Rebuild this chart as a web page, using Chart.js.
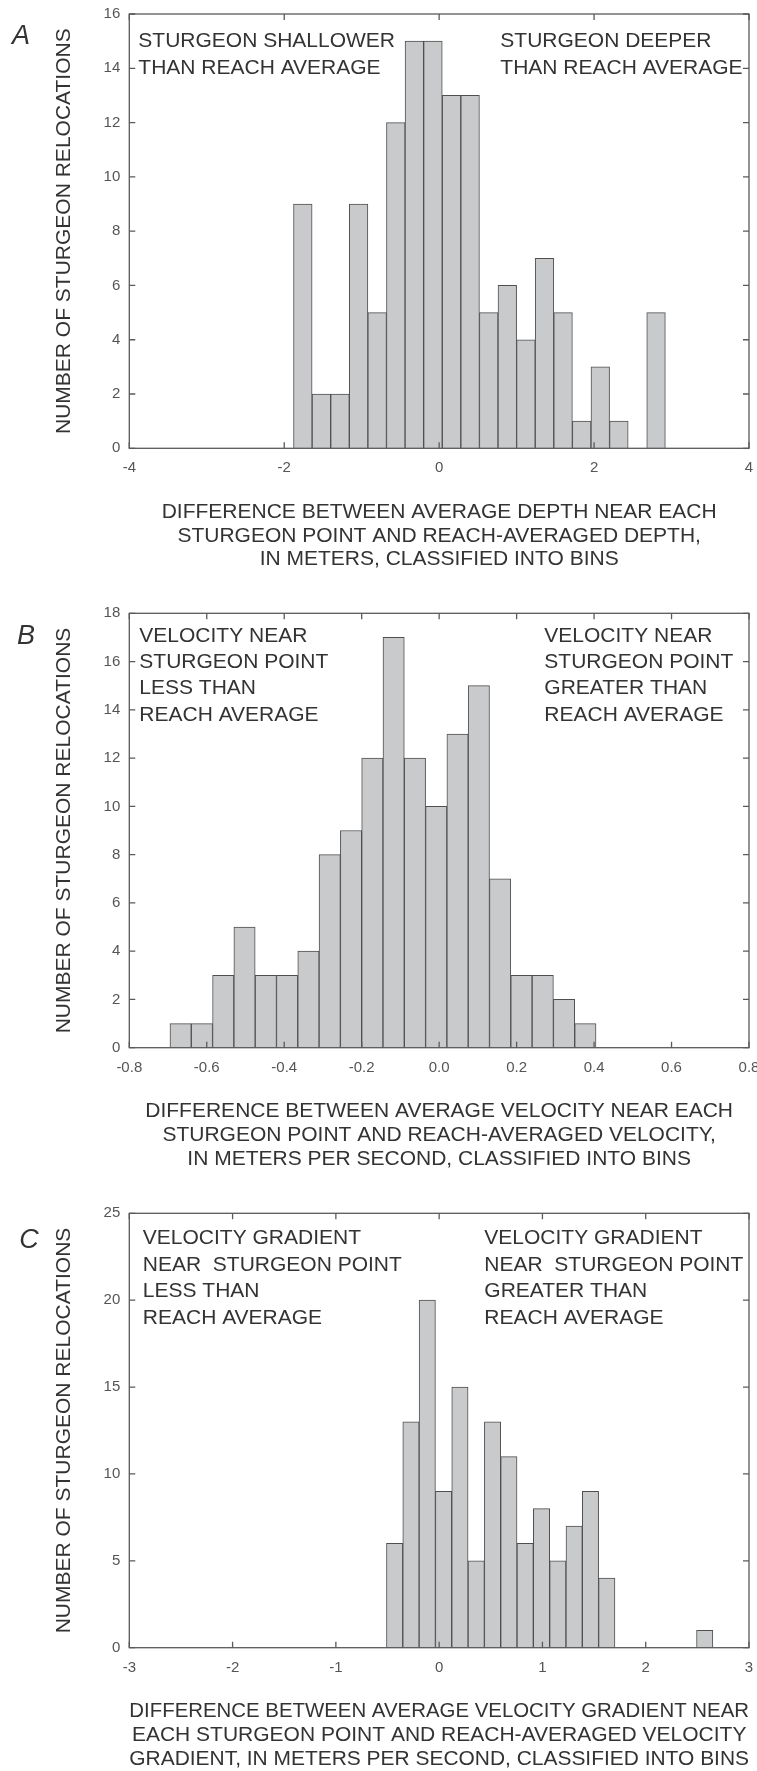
<!DOCTYPE html>
<html>
<head>
<meta charset="utf-8">
<script src="https://cdn.jsdelivr.net/npm/chart.js@4/dist/chart.umd.min.js"></script>
<style>
  html, body { margin: 0; padding: 0; background: #fff; }
  .panel { position: absolute; left: 0; }
</style>
</head>
<body>
<canvas id="chart-depth" class="panel" width="757" height="580" style="top:0px"></canvas>
<canvas id="chart-velocity" class="panel" width="757" height="600" style="top:580px"></canvas>
<canvas id="chart-gradient" class="panel" width="757" height="591" style="top:1180px"></canvas>
<script>
// ── Data (bin centres and counts) ──
const depthBins = [-1.76, -1.52, -1.28, -1.04, -0.80, -0.56, -0.32, -0.08, 0.16, 0.40,
                   0.64, 0.88, 1.12, 1.36, 1.60, 1.84, 2.08, 2.32, 2.56, 2.80];
const depthCounts = [9, 2, 2, 9, 5, 12, 15, 15, 13, 13, 5, 6, 4, 7, 5, 1, 3, 1, 0, 5];

const velocityBins = [-0.6675, -0.6125, -0.5575, -0.5025, -0.4475, -0.3925, -0.3375, -0.2825, -0.2275, -0.1725,
                      -0.1175, -0.0625, -0.0075, 0.0475, 0.1025, 0.1575, 0.2125, 0.2675, 0.3225, 0.3775];
const velocityCounts = [1, 1, 3, 5, 3, 3, 4, 8, 9, 12, 17, 12, 10, 13, 15, 7, 3, 3, 2, 1];

const gradientBins = [-0.431, -0.273, -0.115, 0.043, 0.201, 0.359, 0.517, 0.675, 0.833, 0.991,
                      1.149, 1.307, 1.465, 1.623, 1.781, 1.939, 2.097, 2.255, 2.413, 2.571];
const gradientCounts = [6, 13, 20, 9, 15, 5, 13, 11, 6, 8, 5, 7, 9, 4, 0, 0, 0, 0, 0, 1];

// axis ranges
const depthXTicks = { min: -4, max: 4, step: 2 };
const depthYTicks = { min: 0, max: 16, step: 2 };
const velocityXTicks = { min: -0.8, max: 0.8, step: 0.2 };
const velocityYTicks = { min: 0, max: 18, step: 2 };
const gradientXTicks = { min: -3, max: 3, step: 1 };
const gradientYTicks = { min: 0, max: 25, step: 5 };

// texts
const yTitle = 'NUMBER OF STURGEON RELOCATIONS';
const depthTitle = ['DIFFERENCE BETWEEN AVERAGE DEPTH NEAR EACH',
                    'STURGEON POINT AND REACH-AVERAGED DEPTH,',
                    'IN METERS, CLASSIFIED INTO BINS'];
const velocityTitle = ['DIFFERENCE BETWEEN AVERAGE VELOCITY NEAR EACH',
                       'STURGEON POINT AND REACH-AVERAGED VELOCITY,',
                       'IN METERS PER SECOND, CLASSIFIED INTO BINS'];
const gradientTitle = ['DIFFERENCE BETWEEN AVERAGE VELOCITY GRADIENT NEAR',
                       'EACH STURGEON POINT AND REACH-AVERAGED VELOCITY',
                       'GRADIENT, IN METERS PER SECOND, CLASSIFIED INTO BINS'];
const depthNotesLeft = ['STURGEON SHALLOWER', 'THAN REACH AVERAGE'];
const depthNotesRight = ['STURGEON DEEPER', 'THAN REACH AVERAGE'];
const velocityNotesLeft = ['VELOCITY NEAR', 'STURGEON POINT', 'LESS THAN', 'REACH AVERAGE'];
const velocityNotesRight = ['VELOCITY NEAR', 'STURGEON POINT', 'GREATER THAN', 'REACH AVERAGE'];
const gradientNotesLeft = ['VELOCITY GRADIENT', 'NEAR  STURGEON POINT', 'LESS THAN', 'REACH AVERAGE'];
const gradientNotesRight = ['VELOCITY GRADIENT', 'NEAR  STURGEON POINT', 'GREATER THAN', 'REACH AVERAGE'];

// ── Styles ──
const FONT = '"Liberation Sans", Arial, Helvetica, sans-serif';
const barFill = '#c9cacc';
const barEdge = '#4f4f4f';
const frameColor = '#5a5a5a';
const textColor = '#333333';
const tickColor = '#555555';

Chart.defaults.font.family = FONT;

// frame with inward ticks, in-plot notes and the panel letter
const frameNotesPlugin = {
  id: 'frameNotes',
  afterDraw(chart, args, o) {
    const { ctx, chartArea: a, scales: { x, y } } = chart;
    ctx.save();
    ctx.strokeStyle = frameColor;
    ctx.lineWidth = 1.3;
    ctx.strokeRect(a.left, a.top, a.right - a.left, a.bottom - a.top);
    ctx.beginPath();
    x.ticks.forEach(t => {
      const px = x.getPixelForValue(t.value);
      ctx.moveTo(px, a.bottom); ctx.lineTo(px, a.bottom - 6);
      ctx.moveTo(px, a.top); ctx.lineTo(px, a.top + 6);
    });
    y.ticks.forEach(t => {
      const py = y.getPixelForValue(t.value);
      ctx.moveTo(a.left, py); ctx.lineTo(a.left + 6, py);
      ctx.moveTo(a.right, py); ctx.lineTo(a.right - 6, py);
    });
    ctx.stroke();

    ctx.fillStyle = textColor;
    ctx.font = '21px ' + FONT;
    ctx.textBaseline = 'middle';
    ctx.textAlign = 'left';
    o.left.forEach((s, i) => ctx.fillText(s, a.left + o.leftX, a.top + o.firstY + i * o.gap));
    o.right.forEach((s, i) => ctx.fillText(s, a.left + o.rightX, a.top + o.firstY + i * o.gap));

    ctx.font = 'italic 27px ' + FONT;
    ctx.textAlign = 'center';
    ctx.fillText(o.letter, o.letterX, a.top + o.letterY);
    ctx.restore();
  }
};

function makeHistogram(id, bins, counts, xr, yr, xTitle, notes, box) {
  const ctx = document.getElementById(id).getContext('2d');
  return new Chart(ctx, {
    type: 'bar',
    data: {
      datasets: [{
        data: bins.map((b, i) => ({ x: b, y: counts[i] })),
        backgroundColor: barFill,
        borderColor: barEdge,
        borderWidth: 1,
        barPercentage: 1,
        categoryPercentage: 1
      }]
    },
    plugins: [frameNotesPlugin],
    options: {
      responsive: false,
      animation: false,
      layout: { padding: { top: box.top, right: 8, left: 0, bottom: 0 } },
      plugins: {
        legend: { display: false },
        tooltip: { enabled: false },
        frameNotes: notes
      },
      scales: {
        x: {
          type: 'linear',
          offset: false,
          min: xr.min, max: xr.max,
          grid: { display: false, drawTicks: false },
          border: { display: false },
          ticks: {
            stepSize: xr.step,
            maxRotation: 0,
            autoSkip: false,
            padding: 11,
            color: tickColor,
            font: { size: 15 },
            callback: v => {
              const r = Math.round(v * 10) / 10;
              return xr.step < 1 ? (Math.abs(r) < 1e-9 ? '0.0' : r.toFixed(1)) : String(r);
            }
          },
          title: {
            display: true,
            text: xTitle,
            color: textColor,
            font: { size: 21, lineHeight: 1.12 },
            padding: { top: 0, bottom: box.titleBottom }
          },
          afterFit: s => { s.height = box.xHeight; s.paddingLeft = 0; s.paddingRight = 0; }
        },
        y: {
          min: yr.min, max: yr.max,
          grid: { display: false, drawTicks: false },
          border: { display: false },
          ticks: {
            stepSize: yr.step,
            padding: 9,
            color: tickColor,
            font: { size: 15 }
          },
          title: {
            display: true,
            text: yTitle,
            color: textColor,
            font: { size: 21 },
            padding: { top: 52, bottom: 0 }
          },
          afterFit: s => { s.width = 129.3; s.paddingTop = 0; s.paddingBottom = 0; }
        }
      }
    }
  });
}

// ── A. Depth ──
makeHistogram('chart-depth', depthBins, depthCounts, depthXTicks, depthYTicks, depthTitle,
  { left: depthNotesLeft, right: depthNotesRight, leftX: 9, rightX: 371, firstY: 27.7, gap: 26.6,
    letter: 'A', letterX: 21, letterY: 22 },
  { top: 14, xHeight: 131.7, titleBottom: 8.9 });

// ── B. Velocity ──
makeHistogram('chart-velocity', velocityBins, velocityCounts, velocityXTicks, velocityYTicks, velocityTitle,
  { left: velocityNotesLeft, right: velocityNotesRight, leftX: 10, rightX: 415, firstY: 22.5, gap: 26.4,
    letter: 'B', letterX: 26, letterY: 22.7 },
  { top: 33.3, xHeight: 132.3, titleBottom: 9.5 });

// ── C. Velocity gradient ──
makeHistogram('chart-gradient', gradientBins, gradientCounts, gradientXTicks, gradientYTicks, gradientTitle,
  { left: gradientNotesLeft, right: gradientNotesRight, leftX: 13.5, rightX: 355, firstY: 25, gap: 26.5,
    letter: 'C', letterX: 29, letterY: 26.7 },
  { top: 33.3, xHeight: 123.3, titleBottom: 0.5 });
</script>
</body>
</html>
